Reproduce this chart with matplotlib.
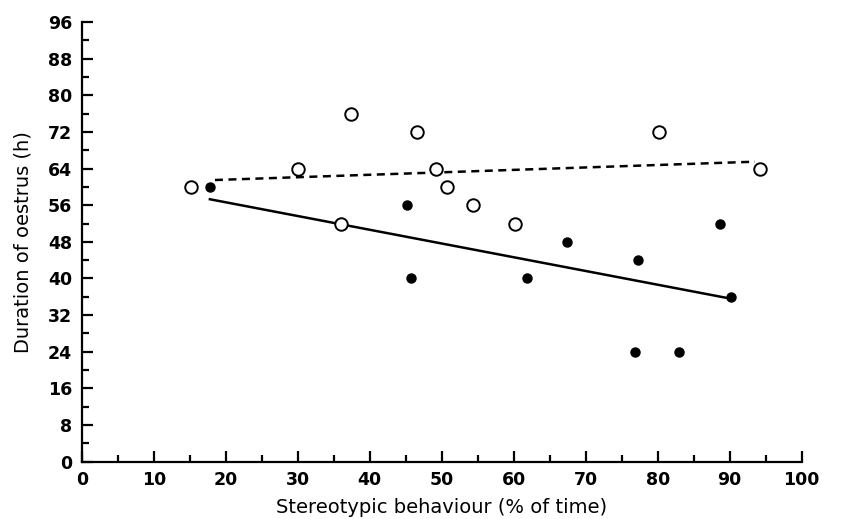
import matplotlib
matplotlib.use('Agg')
import matplotlib.pyplot as plt
from matplotlib.ticker import MultipleLocator

# open circles
open_x = [15.2, 30.0, 37.4, 36.0, 46.6, 49.2, 50.8, 54.4, 60.2, 80.2, 94.2]
open_y = [60, 64, 76, 52, 72, 64, 60, 56, 52, 72, 64]

# filled circles
filled_x = [17.8, 45.2, 45.8, 61.8, 67.4, 77.2, 88.6, 90.2, 76.8, 83.0]
filled_y = [60, 56, 40, 40, 48, 44, 52, 36, 24, 24]

# regression lines (end points)
dash_x = [18.5, 93.5]
dash_y = [61.5, 65.5]
solid_x = [17.8, 89.8]
solid_y = [57.3, 35.7]

x_label = 'Stereotypic behaviour (% of time)'
y_label = 'Duration of oestrus (h)'

plt.rcParams['font.family'] = ['DejaVu Sans']

fig = plt.figure(figsize=(8.47, 5.19), dpi=100)
ax = fig.add_axes([0.0965, 0.1104, 0.85, 0.8472])

ax.plot(dash_x, dash_y, color='black', lw=1.8, ls=(0, (3.2, 2.2)), zorder=2)
ax.plot(solid_x, solid_y, color='black', lw=1.8, zorder=2)

ax.plot(open_x, open_y, 'o', ms=9, mfc='white', mec='black', mew=1.4, zorder=3, clip_on=False)
ax.plot(filled_x, filled_y, 'o', ms=6.5, mfc='black', mec='black', zorder=3, clip_on=False)

ax.set_xlim(0, 100)
ax.set_ylim(0, 96)
ax.xaxis.set_major_locator(MultipleLocator(10))
ax.xaxis.set_minor_locator(MultipleLocator(5))
ax.yaxis.set_major_locator(MultipleLocator(8))
ax.yaxis.set_minor_locator(MultipleLocator(4))

for s in ['top', 'right']:
    ax.spines[s].set_visible(False)
for s in ['left', 'bottom']:
    ax.spines[s].set_linewidth(1.6)

ax.tick_params(which='major', direction='in', length=8, width=1.6, pad=7)
ax.tick_params(which='minor', direction='in', length=5, width=1.6)
for lab in ax.get_xticklabels() + ax.get_yticklabels():
    lab.set_fontsize(12.5)
    lab.set_fontweight('bold')

ax.set_xlabel(x_label, fontsize=14, labelpad=6)
ax.set_ylabel(y_label, fontsize=14, labelpad=11)

fig.savefig('out.png', dpi=100)
